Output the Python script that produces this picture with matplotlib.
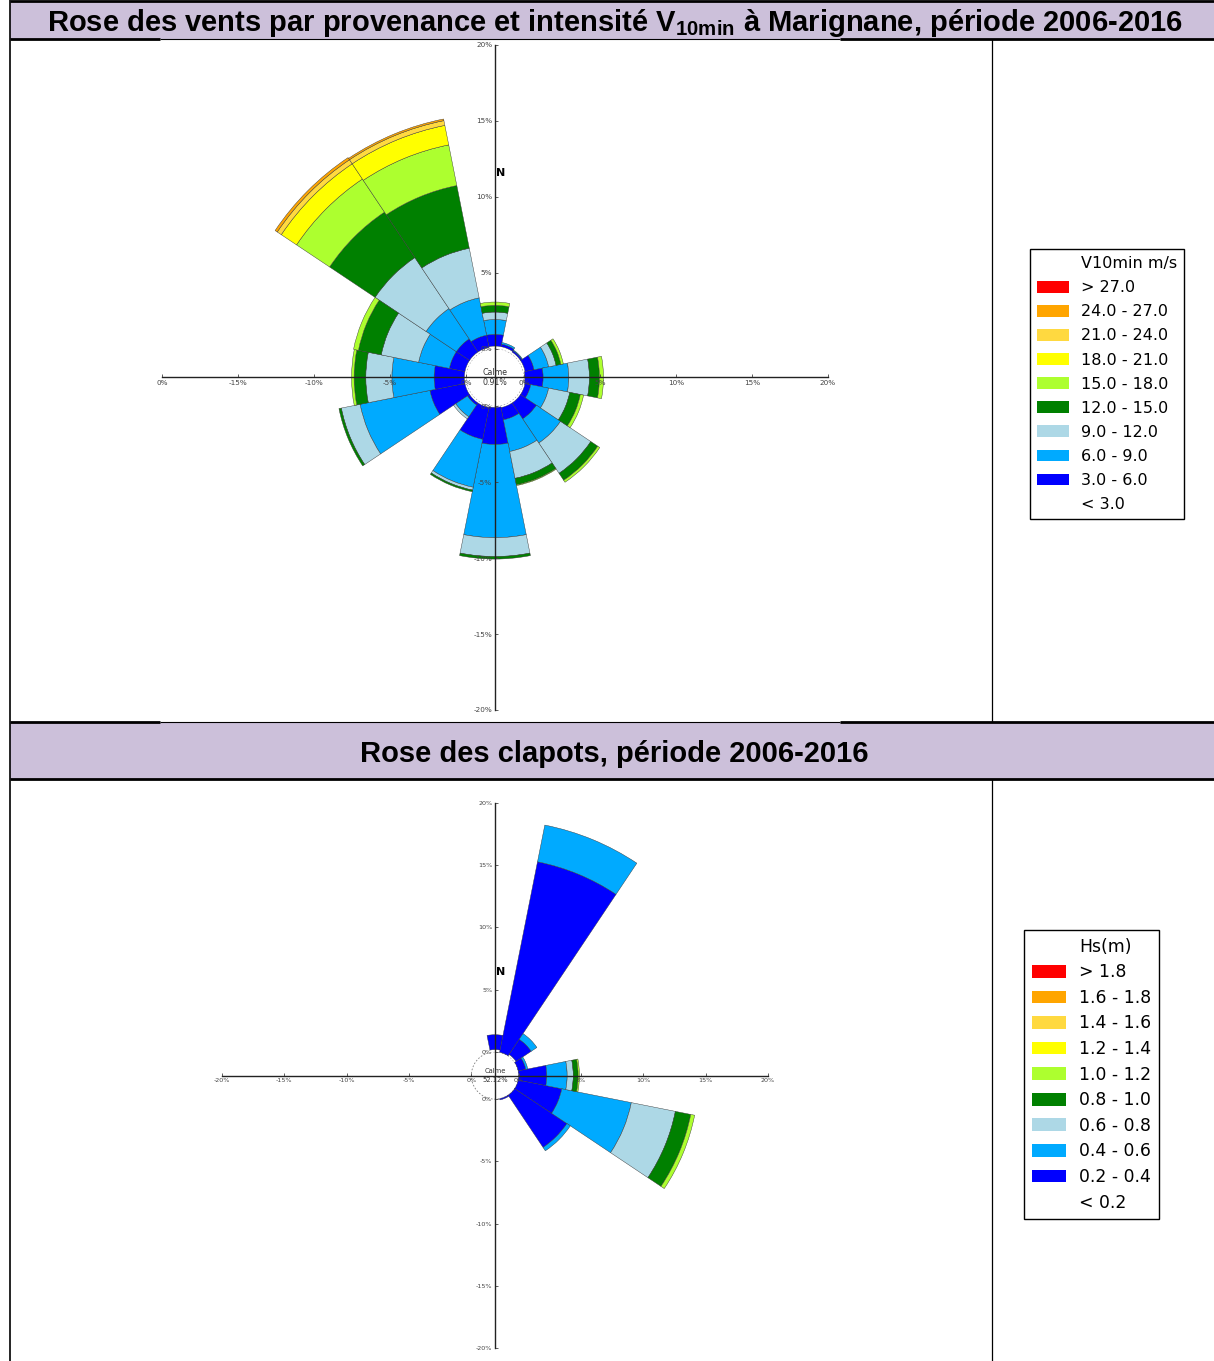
import numpy as np
import matplotlib.pyplot as plt
from matplotlib.patches import Patch, Rectangle
from matplotlib.lines import Line2D

plt.rcParams['mathtext.fontset'] = 'custom'
plt.rcParams['mathtext.bf'] = 'Liberation Sans:bold'
plt.rcParams['mathtext.rm'] = 'Liberation Sans'

W, H = 1214, 1361
R0 = 1.9  # rayon du cercle des calmes (en %), les barres partent de la

directions = ['N', 'NNE', 'NE', 'ENE', 'E', 'ESE', 'SE', 'SSE',
              'S', 'SSW', 'SW', 'WSW', 'W', 'WNW', 'NW', 'NNW']
bearings = np.arange(len(directions)) * 22.5

# rose des vents : frequences (%) par direction et classe de V10min
wind_lt3 = [0.17, 0.17, 0.12, 0.12, 0.07, 0.12, 0.12, 0.12, 0.07, 0.12, 0.12, 0.12, 0.12, 0.12, 0.12, 0.12]
wind_3_6 = [0.77, 0.17, 0.11, 0.60, 1.20, 0.38, 1.26, 0.82, 2.44, 2.13, 0.16, 2.35, 1.99, 1.04, 1.04, 0.82]
wind_6_9 = [0.98, 0.11, 0.05, 0.98, 1.69, 1.20, 1.91, 2.13, 6.14, 3.22, 0.93, 4.69, 2.78, 2.07, 2.40, 2.51]
wind_9_12 = [0.49, 0.00, 0.00, 0.50, 1.36, 1.42, 2.40, 1.80, 1.24, 0.19, 0.17, 1.26, 1.72, 2.51, 4.04, 3.33]
wind_12_15 = [0.44, 0.00, 0.00, 0.32, 0.66, 0.71, 0.55, 0.44, 0.17, 0.11, 0.00, 0.16, 0.77, 1.53, 3.60, 4.21]
wind_15_18 = [0.22, 0.00, 0.00, 0.17, 0.27, 0.22, 0.16, 0.05, 0.00, 0.00, 0.00, 0.00, 0.17, 0.33, 2.62, 2.73]
wind_18_21 = [0, 0, 0, 0, 0, 0, 0, 0, 0, 0, 0, 0, 0, 0, 1.21, 1.31]
wind_21_24 = [0, 0, 0, 0, 0, 0, 0, 0, 0, 0, 0, 0, 0, 0, 0.32, 0.32]
wind_24_27 = [0, 0, 0, 0, 0, 0, 0, 0, 0, 0, 0, 0, 0, 0, 0.17, 0.11]
wind_gt27 = [0, 0, 0, 0, 0, 0, 0, 0, 0, 0, 0, 0, 0, 0, 0, 0]
wind_calm = '0.91%'

# rose des clapots : frequences (%) par direction et classe de Hs
wave_lt02 = [0.18, 0, 0.13, 0, 0, 0, 0, 0, 0, 0, 0, 0, 0, 0, 0, 0]
wave_02_04 = [1.20, 15.61, 1.47, 0.62, 2.26, 3.57, 5.05, 0.10, 0, 0, 0, 0, 0, 0, 0, 0]
wave_04_06 = [0, 3.01, 0.55, 0.16, 1.64, 5.70, 0.33, 0, 0, 0, 0, 0, 0, 0, 0, 0]
wave_06_08 = [0, 0, 0, 0, 0.49, 3.61, 0, 0, 0, 0, 0, 0, 0, 0, 0, 0]
wave_08_10 = [0, 0, 0, 0, 0.39, 1.26, 0, 0, 0, 0, 0, 0, 0, 0, 0, 0]
wave_10_12 = [0, 0, 0, 0, 0.11, 0.32, 0, 0, 0, 0, 0, 0, 0, 0, 0, 0]
wave_12_14 = [0] * 16
wave_14_16 = [0] * 16
wave_16_18 = [0] * 16
wave_gt18 = [0] * 16
wave_calm = '52.12%'

class_colors = ['#ffffff', '#0000ff', '#00aaff', '#add8e6', '#008000',
                '#adff2f', '#ffff00', '#ffd940', '#ffa500', '#ff0000']

wind_legend = ['V10min m/s', '> 27.0', '24.0 - 27.0', '21.0 - 24.0', '18.0 - 21.0',
               '15.0 - 18.0', '12.0 - 15.0', '9.0 - 12.0', '6.0 - 9.0', '3.0 - 6.0', '< 3.0']
wave_legend = ['Hs(m)', '> 1.8', '1.6 - 1.8', '1.4 - 1.6', '1.2 - 1.4', '1.0 - 1.2',
               '0.8 - 1.0', '0.6 - 0.8', '0.4 - 0.6', '0.2 - 0.4', '< 0.2']

tick_pct = [-20, -15, -10, -5, 0, 0, 5, 10, 15, 20]
tick_side = [-1, -1, -1, -1, -1, 1, 1, 1, 1, 1]
wind_xlabels = ['0%', '-15%', '-10%', '-5%', '0%', '0%', '5%', '10%', '15%', '20%']
wind_ylabels = ['-20%', '-15%', '-10%', '-5%', '0%', '0%', '5%', '10%', '15%', '20%']
wave_xlabels = ['-20%', '-15%', '-10%', '-5%', '0%', '0%', '5%', '10%', '15%', '20%']
wave_ylabels = wave_xlabels

title_wind = ('Rose des vents par provenance et intensité $\\mathbf{V_{10min}}$'
              ' à Marignane, période 2006-2016')
title_wave = 'Rose des clapots, période 2006-2016'

fig = plt.figure(figsize=(W / 100, H / 100), dpi=100)


def fx(x):
    return x / W


def fy(y):
    return 1 - y / H


def hline(y, x0, x1, lw):
    fig.add_artist(Line2D([fx(x0), fx(x1)], [fy(y), fy(y)], transform=fig.transFigure,
                          color='black', lw=lw, solid_capstyle='butt'))


def vline(x, y0, y1, lw):
    fig.add_artist(Line2D([fx(x), fx(x)], [fy(y0), fy(y1)], transform=fig.transFigure,
                          color='black', lw=lw, solid_capstyle='butt'))


def draw_rose(box, classes, calm, north_r, tick_fs, calm_fs, xlabels, ylabels):
    x0, y0, x1, y1 = box
    rmax = R0 + 20
    rect = [fx(x0), fy(y1), (x1 - x0) / W, (y1 - y0) / H]
    axp = fig.add_axes(rect, projection='polar')
    axp.set_theta_zero_location('N')
    axp.set_theta_direction(-1)
    axp.set_ylim(0, rmax)
    axp.set_facecolor('none')
    axp.axis('off')
    theta = np.radians(bearings)
    t = np.linspace(0, 2 * np.pi, 300)
    axp.plot(t, np.full_like(t, R0), color='0.5', lw=0.6, ls=(0, (2, 2)), zorder=1)
    base = np.full(len(directions), R0)
    for vals, col in zip(classes, class_colors):
        vals = np.asarray(vals, float)
        m = vals > 0
        if m.any():
            axp.bar(theta[m], vals[m], width=np.radians(22.5), bottom=base[m], color=col,
                    edgecolor='none' if col == '#ffffff' else '#333333',
                    linewidth=0.3, zorder=2)
        base += vals

    axc = fig.add_axes(rect)
    axc.set_facecolor('none')
    axc.set_xlim(-rmax, rmax)
    axc.set_ylim(-rmax, rmax)
    for s in ['top', 'right']:
        axc.spines[s].set_visible(False)
    for s in ['left', 'bottom']:
        axc.spines[s].set_position('zero')
        axc.spines[s].set_linewidth(1.0)
        axc.spines[s].set_color('#222222')
    ticks = [sd * (R0 + abs(p)) for p, sd in zip(tick_pct, tick_side)]
    axc.set_xticks(ticks, xlabels)
    axc.set_yticks(ticks, ylabels)
    axc.tick_params(direction='in', length=2.5, width=0.6, labelsize=tick_fs,
                    colors='#444444', pad=2)
    axc.text(0, 0.36, 'Calme', ha='center', va='center', fontsize=calm_fs, color='#333333')
    axc.text(0, -0.36, calm, ha='center', va='center', fontsize=calm_fs, color='#333333')
    axc.text(0.05, north_r, 'N', ha='left', va='center', fontsize=8, fontweight='bold')


def add_legend(labels, x, y, fs, spacing):
    cols = ['#ffffff'] + class_colors[::-1]
    handles = [Patch(facecolor=c, edgecolor='none') for c in cols]
    leg = fig.legend(handles, labels, loc='upper left', bbox_to_anchor=(fx(x), fy(y)),
                     bbox_transform=fig.transFigure, borderaxespad=0, fancybox=False,
                     edgecolor='black', framealpha=1, fontsize=fs, handlelength=2.0,
                     handleheight=0.75, labelspacing=spacing, handletextpad=0.75,
                     borderpad=0.45)
    leg.get_frame().set_linewidth(1.0)


# bandeaux de titre
fig.add_artist(Rectangle((fx(10), fy(39)), 1 - fx(10), 38 / H, transform=fig.transFigure,
                         facecolor='#ccc0da', edgecolor='none'))
fig.add_artist(Rectangle((fx(10), fy(779)), 1 - fx(10), 56 / H, transform=fig.transFigure,
                         facecolor='#ccc0da', edgecolor='none'))
fig.text(fx(615), fy(31), title_wind, ha='center', va='baseline', fontsize=21,
         fontweight='bold', family='Liberation Sans')
fig.text(fx(614), fy(762), title_wave, ha='center', va='baseline', fontsize=21,
         fontweight='bold', family='Liberation Sans')

draw_rose((162, 45, 828, 710),
          [wind_lt3, wind_3_6, wind_6_9, wind_9_12, wind_12_15, wind_15_18,
           wind_18_21, wind_21_24, wind_24_27, wind_gt27],
          wind_calm, 13.5, 5.2, 5.7, wind_xlabels, wind_ylabels)
draw_rose((222, 803, 768, 1348),
          [wave_lt02, wave_02_04, wave_04_06, wave_06_08, wave_08_10, wave_10_12,
           wave_12_14, wave_14_16, wave_16_18, wave_gt18],
          wave_calm, 8.3, 4.6, 4.9, wave_xlabels, wave_ylabels)

add_legend(wind_legend, 1030, 249, 11.5, 0.57)
add_legend(wave_legend, 1024, 930, 12.4, 0.44)

# traits du tableau
hline(1, 10, W, 2)
for yy in (39, 722):
    hline(yy, 10, 160, 2)
    hline(yy, 160, 840, 0.8)
    hline(yy, 840, W, 2)
hline(779, 10, W, 2)
vline(10, 0, H, 1.2)
vline(992, 39, 722, 0.9)
vline(992, 779, H, 0.9)

fig.savefig('out.png', dpi=100)
